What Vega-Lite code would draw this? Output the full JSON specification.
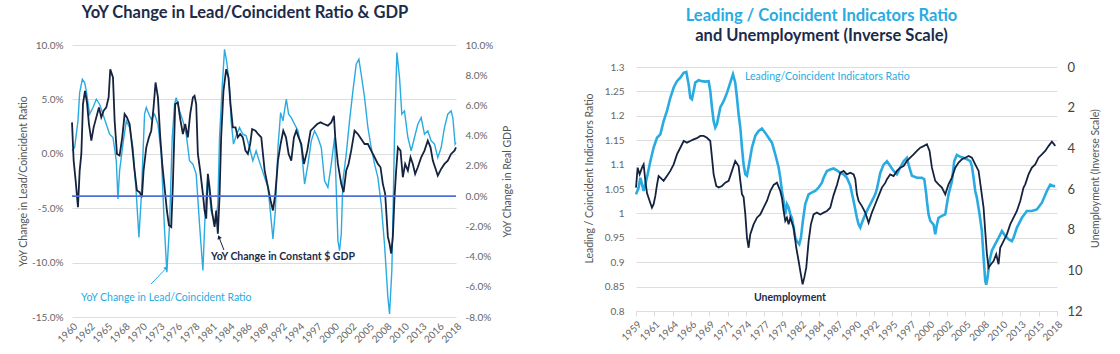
{
"$schema": "https://vega.github.io/schema/vega-lite/v6.json",
"background": "white",
"padding": {"left": 18, "top": 4, "right": 2, "bottom": 2},
"spacing": 70,
"config": {"font": "Lato", "view": {"stroke": null}, "title": {"font": "Lato", "subtitleFont": "Lato"}},
"datasets": {
"lc": [{"t":1960.00,"v":0.28},{"t":1960.40,"v":0.58},{"t":1960.90,"v":3.03},{"t":1961.16,"v":5.63},{"t":1961.56,"v":6.85},{"t":1961.91,"v":6.54},{"t":1962.16,"v":5.78},{"t":1962.66,"v":3.64},{"t":1963.17,"v":4.25},{"t":1963.67,"v":5.02},{"t":1964.17,"v":4.56},{"t":1964.68,"v":3.64},{"t":1965.18,"v":2.72},{"t":1965.68,"v":1.80},{"t":1966.19,"v":1.50},{"t":1966.69,"v":-0.64},{"t":1966.94,"v":-4.16},{"t":1967.19,"v":-1.56},{"t":1967.69,"v":0.89},{"t":1968.20,"v":3.03},{"t":1968.70,"v":2.42},{"t":1969.20,"v":0.58},{"t":1969.71,"v":-3.70},{"t":1970.11,"v":-7.68},{"t":1970.46,"v":-4.01},{"t":1970.96,"v":3.64},{"t":1971.22,"v":4.25},{"t":1971.62,"v":3.64},{"t":1971.97,"v":3.18},{"t":1972.47,"v":3.64},{"t":1972.98,"v":2.72},{"t":1973.48,"v":-0.03},{"t":1973.98,"v":-7.06},{"t":1974.33,"v":-10.89},{"t":1974.74,"v":-6.45},{"t":1975.14,"v":1.50},{"t":1975.49,"v":4.56},{"t":1975.74,"v":5.17},{"t":1976.25,"v":3.94},{"t":1976.75,"v":3.03},{"t":1977.25,"v":1.80},{"t":1977.75,"v":-0.64},{"t":1978.26,"v":-0.95},{"t":1978.76,"v":-1.87},{"t":1979.26,"v":-6.45},{"t":1979.77,"v":-10.73},{"t":1980.17,"v":-4.62},{"t":1980.52,"v":-2.17},{"t":1980.77,"v":-3.70},{"t":1981.02,"v":-5.23},{"t":1981.28,"v":-5.84},{"t":1981.68,"v":-6.45},{"t":1982.03,"v":-4.62},{"t":1982.28,"v":1.50},{"t":1982.68,"v":6.09},{"t":1983.04,"v":9.60},{"t":1983.39,"v":8.38},{"t":1983.79,"v":6.09},{"t":1984.04,"v":3.03},{"t":1984.39,"v":0.89},{"t":1984.80,"v":1.65},{"t":1985.30,"v":2.42},{"t":1985.80,"v":1.80},{"t":1986.31,"v":1.65},{"t":1986.81,"v":0.58},{"t":1987.31,"v":-0.64},{"t":1987.81,"v":0.28},{"t":1988.09,"v":-0.30},{"t":1988.59,"v":-1.25},{"t":1989.10,"v":-2.17},{"t":1989.60,"v":-3.09},{"t":1990.00,"v":-5.54},{"t":1990.35,"v":-7.83},{"t":1990.71,"v":-5.23},{"t":1991.11,"v":0.58},{"t":1991.51,"v":3.79},{"t":1991.86,"v":3.03},{"t":1992.37,"v":5.02},{"t":1992.72,"v":3.64},{"t":1993.12,"v":3.33},{"t":1993.62,"v":2.72},{"t":1994.13,"v":2.11},{"t":1994.63,"v":0.58},{"t":1995.13,"v":-2.78},{"t":1995.64,"v":-0.95},{"t":1996.14,"v":1.19},{"t":1996.64,"v":2.11},{"t":1997.14,"v":1.50},{"t":1997.65,"v":0.58},{"t":1998.15,"v":-2.48},{"t":1998.65,"v":-3.09},{"t":1999.16,"v":-0.95},{"t":1999.66,"v":1.50},{"t":2000.16,"v":-7.98},{"t":2000.41,"v":-8.90},{"t":2000.67,"v":-7.37},{"t":2000.92,"v":-2.48},{"t":2001.42,"v":-0.03},{"t":2001.92,"v":3.03},{"t":2002.43,"v":5.78},{"t":2002.93,"v":8.23},{"t":2003.33,"v":8.69},{"t":2003.68,"v":7.31},{"t":2004.19,"v":5.17},{"t":2004.69,"v":2.42},{"t":2005.19,"v":0.58},{"t":2005.70,"v":-0.95},{"t":2006.20,"v":-2.17},{"t":2006.70,"v":-4.62},{"t":2007.20,"v":-8.29},{"t":2007.71,"v":-13.18},{"t":2007.96,"v":-14.71},{"t":2008.31,"v":-10.73},{"t":2008.71,"v":1.50},{"t":2009.07,"v":9.30},{"t":2009.47,"v":7.00},{"t":2009.82,"v":3.64},{"t":2010.22,"v":3.94},{"t":2010.73,"v":1.50},{"t":2011.23,"v":0.28},{"t":2011.73,"v":1.50},{"t":2012.23,"v":2.72},{"t":2012.74,"v":3.33},{"t":2013.24,"v":1.80},{"t":2013.74,"v":2.11},{"t":2014.25,"v":1.19},{"t":2014.75,"v":0.89},{"t":2015.25,"v":-0.34},{"t":2015.76,"v":0.58},{"t":2016.26,"v":2.42},{"t":2016.76,"v":3.64},{"t":2017.26,"v":3.94},{"t":2017.52,"v":3.33},{"t":2017.87,"v":0.89},{"t":2018.00,"v":1.04}],
"gdp": [{"t":1960.00,"g":4.88},{"t":1960.25,"g":2.35},{"t":1960.55,"g":1.03},{"t":1960.90,"g":-0.73},{"t":1961.16,"g":1.69},{"t":1961.41,"g":2.79},{"t":1961.66,"g":6.09},{"t":1961.96,"g":6.97},{"t":1962.26,"g":6.20},{"t":1962.56,"g":4.77},{"t":1962.92,"g":3.67},{"t":1963.27,"g":4.55},{"t":1963.67,"g":5.21},{"t":1964.07,"g":5.87},{"t":1964.42,"g":5.21},{"t":1964.78,"g":5.65},{"t":1965.18,"g":5.87},{"t":1965.53,"g":6.53},{"t":1965.78,"g":8.40},{"t":1966.19,"g":7.85},{"t":1966.44,"g":4.99},{"t":1966.79,"g":2.79},{"t":1967.19,"g":2.68},{"t":1967.59,"g":3.89},{"t":1967.95,"g":5.43},{"t":1968.30,"g":5.21},{"t":1968.70,"g":4.77},{"t":1969.10,"g":3.23},{"t":1969.45,"g":1.69},{"t":1969.81,"g":0.37},{"t":1970.21,"g":0.26},{"t":1970.56,"g":-0.07},{"t":1970.81,"g":1.69},{"t":1971.22,"g":3.23},{"t":1971.62,"g":3.89},{"t":1971.97,"g":4.33},{"t":1972.32,"g":5.87},{"t":1972.62,"g":7.52},{"t":1972.98,"g":6.53},{"t":1973.33,"g":3.89},{"t":1973.63,"g":2.13},{"t":1973.98,"g":0.59},{"t":1974.33,"g":-0.95},{"t":1974.64,"g":-1.93},{"t":1974.99,"g":-2.04},{"t":1975.24,"g":0.81},{"t":1975.59,"g":6.09},{"t":1975.99,"g":6.20},{"t":1976.35,"g":5.10},{"t":1976.75,"g":4.11},{"t":1977.10,"g":4.77},{"t":1977.50,"g":3.89},{"t":1977.85,"g":5.43},{"t":1978.26,"g":6.53},{"t":1978.51,"g":6.64},{"t":1978.76,"g":6.09},{"t":1979.01,"g":2.79},{"t":1979.36,"g":1.69},{"t":1979.77,"g":0.15},{"t":1980.02,"g":-0.95},{"t":1980.27,"g":-1.49},{"t":1980.52,"g":1.47},{"t":1980.77,"g":0.59},{"t":1981.12,"g":-0.95},{"t":1981.53,"g":-2.04},{"t":1981.78,"g":-0.95},{"t":1982.03,"g":-2.48},{"t":1982.28,"g":-0.07},{"t":1982.53,"g":3.89},{"t":1982.88,"g":6.97},{"t":1983.29,"g":8.40},{"t":1983.64,"g":7.85},{"t":1983.94,"g":6.09},{"t":1984.29,"g":4.55},{"t":1984.70,"g":4.55},{"t":1985.05,"g":3.89},{"t":1985.40,"g":4.11},{"t":1985.80,"g":3.89},{"t":1986.20,"g":3.01},{"t":1986.56,"g":2.79},{"t":1986.91,"g":3.45},{"t":1987.21,"g":4.44},{"t":1987.71,"g":4.33},{"t":1988.09,"g":4.11},{"t":1988.59,"g":3.89},{"t":1989.10,"g":1.69},{"t":1989.60,"g":0.59},{"t":1990.00,"g":-0.29},{"t":1990.35,"g":-0.95},{"t":1990.71,"g":0.15},{"t":1991.11,"g":2.35},{"t":1991.51,"g":3.45},{"t":1991.91,"g":4.33},{"t":1992.32,"g":3.89},{"t":1992.72,"g":2.79},{"t":1993.12,"g":2.35},{"t":1993.52,"g":3.89},{"t":1993.87,"g":4.33},{"t":1994.23,"g":3.89},{"t":1994.63,"g":3.45},{"t":1995.03,"g":2.13},{"t":1995.53,"g":3.01},{"t":1996.04,"g":4.33},{"t":1996.54,"g":4.55},{"t":1997.04,"g":4.77},{"t":1997.55,"g":4.88},{"t":1998.05,"g":4.77},{"t":1998.65,"g":4.66},{"t":1999.16,"g":4.88},{"t":1999.56,"g":5.32},{"t":1999.76,"g":3.89},{"t":2000.16,"g":2.13},{"t":2000.67,"g":0.81},{"t":2001.02,"g":0.26},{"t":2001.42,"g":1.69},{"t":2001.77,"g":2.13},{"t":2002.17,"g":3.01},{"t":2002.68,"g":4.33},{"t":2003.18,"g":4.11},{"t":2003.68,"g":3.78},{"t":2004.19,"g":3.45},{"t":2004.69,"g":3.45},{"t":2005.19,"g":3.01},{"t":2005.70,"g":2.57},{"t":2006.20,"g":2.13},{"t":2006.60,"g":1.91},{"t":2006.95,"g":0.81},{"t":2007.30,"g":0.15},{"t":2007.71,"g":-2.70},{"t":2007.96,"g":-3.14},{"t":2008.21,"g":-3.80},{"t":2008.46,"g":-2.70},{"t":2008.71,"g":-0.07},{"t":2008.96,"g":1.69},{"t":2009.22,"g":3.23},{"t":2009.62,"g":3.01},{"t":2009.97,"g":1.25},{"t":2010.32,"g":2.13},{"t":2010.73,"g":1.69},{"t":2011.13,"g":2.57},{"t":2011.48,"g":2.13},{"t":2011.83,"g":1.47},{"t":2012.23,"g":1.91},{"t":2012.74,"g":2.57},{"t":2013.24,"g":3.01},{"t":2013.74,"g":3.67},{"t":2014.15,"g":3.23},{"t":2014.50,"g":2.35},{"t":2015.00,"g":1.69},{"t":2015.25,"g":1.36},{"t":2015.76,"g":1.80},{"t":2016.26,"g":2.13},{"t":2016.76,"g":2.35},{"t":2017.26,"g":2.79},{"t":2017.77,"g":3.01},{"t":2018.00,"g":3.23}],
"ratio": [{"t":1959.00,"r":1.039},{"t":1959.37,"r":1.053},{"t":1959.61,"r":1.073},{"t":1959.84,"r":1.06},{"t":1960.07,"r":1.046},{"t":1960.31,"r":1.06},{"t":1960.63,"r":1.08},{"t":1961.01,"r":1.107},{"t":1961.47,"r":1.135},{"t":1961.94,"r":1.155},{"t":1962.41,"r":1.162},{"t":1962.87,"r":1.189},{"t":1963.34,"r":1.21},{"t":1963.81,"r":1.237},{"t":1964.28,"r":1.258},{"t":1964.74,"r":1.271},{"t":1965.21,"r":1.278},{"t":1965.68,"r":1.288},{"t":1966.05,"r":1.29},{"t":1966.38,"r":1.264},{"t":1966.61,"r":1.237},{"t":1966.84,"r":1.234},{"t":1967.08,"r":1.251},{"t":1967.31,"r":1.268},{"t":1967.78,"r":1.273},{"t":1968.24,"r":1.271},{"t":1968.71,"r":1.27},{"t":1969.18,"r":1.271},{"t":1969.41,"r":1.251},{"t":1969.65,"r":1.217},{"t":1969.88,"r":1.189},{"t":1970.11,"r":1.176},{"t":1970.35,"r":1.183},{"t":1970.58,"r":1.2},{"t":1970.81,"r":1.217},{"t":1971.28,"r":1.23},{"t":1971.75,"r":1.247},{"t":1972.21,"r":1.268},{"t":1972.59,"r":1.285},{"t":1972.91,"r":1.268},{"t":1973.15,"r":1.237},{"t":1973.38,"r":1.203},{"t":1973.62,"r":1.176},{"t":1973.85,"r":1.135},{"t":1974.08,"r":1.1},{"t":1974.32,"r":1.08},{"t":1974.55,"r":1.077},{"t":1974.92,"r":1.107},{"t":1975.25,"r":1.135},{"t":1975.72,"r":1.159},{"t":1976.18,"r":1.169},{"t":1976.65,"r":1.174},{"t":1977.12,"r":1.165},{"t":1977.58,"r":1.155},{"t":1978.05,"r":1.145},{"t":1978.52,"r":1.121},{"t":1978.99,"r":1.094},{"t":1979.22,"r":1.073},{"t":1979.45,"r":1.046},{"t":1979.69,"r":1.025},{"t":1979.92,"r":0.998},{"t":1980.15,"r":1.019},{"t":1980.39,"r":1.012},{"t":1980.62,"r":0.998},{"t":1980.85,"r":0.991},{"t":1981.09,"r":0.971},{"t":1981.32,"r":0.95},{"t":1981.55,"r":0.943},{"t":1981.88,"r":0.937},{"t":1982.11,"r":0.95},{"t":1982.39,"r":0.985},{"t":1982.72,"r":1.019},{"t":1983.19,"r":1.039},{"t":1983.66,"r":1.043},{"t":1984.12,"r":1.046},{"t":1984.59,"r":1.053},{"t":1985.06,"r":1.063},{"t":1985.29,"r":1.073},{"t":1985.76,"r":1.087},{"t":1986.22,"r":1.09},{"t":1986.69,"r":1.092},{"t":1987.16,"r":1.088},{"t":1987.63,"r":1.083},{"t":1988.09,"r":1.08},{"t":1988.56,"r":1.073},{"t":1989.03,"r":1.057},{"t":1989.50,"r":1.025},{"t":1989.96,"r":0.991},{"t":1990.20,"r":0.977},{"t":1990.43,"r":0.971},{"t":1990.66,"r":0.981},{"t":1991.13,"r":0.998},{"t":1991.60,"r":1.012},{"t":1992.06,"r":1.025},{"t":1992.53,"r":1.039},{"t":1992.76,"r":1.05},{"t":1993.23,"r":1.083},{"t":1993.70,"r":1.1},{"t":1994.17,"r":1.107},{"t":1994.63,"r":1.097},{"t":1995.10,"r":1.087},{"t":1995.57,"r":1.08},{"t":1996.03,"r":1.094},{"t":1996.50,"r":1.107},{"t":1996.97,"r":1.114},{"t":1997.20,"r":1.1},{"t":1997.67,"r":1.077},{"t":1998.37,"r":1.073},{"t":1999.07,"r":1.073},{"t":1999.40,"r":1.07},{"t":1999.68,"r":1.039},{"t":1999.77,"r":1.025},{"t":2000.00,"r":0.998},{"t":2000.24,"r":0.985},{"t":2000.70,"r":0.977},{"t":2000.94,"r":0.957},{"t":2001.17,"r":0.977},{"t":2001.40,"r":0.991},{"t":2001.87,"r":0.995},{"t":2002.34,"r":0.998},{"t":2002.57,"r":1.019},{"t":2002.80,"r":1.039},{"t":2003.27,"r":1.066},{"t":2003.60,"r":1.107},{"t":2003.97,"r":1.12},{"t":2004.44,"r":1.116},{"t":2004.91,"r":1.114},{"t":2005.37,"r":1.111},{"t":2005.84,"r":1.107},{"t":2006.07,"r":1.097},{"t":2006.31,"r":1.073},{"t":2006.54,"r":1.046},{"t":2006.77,"r":1.032},{"t":2007.15,"r":0.998},{"t":2007.47,"r":0.964},{"t":2007.71,"r":0.91},{"t":2007.94,"r":0.862},{"t":2008.08,"r":0.854},{"t":2008.27,"r":0.869},{"t":2008.55,"r":0.903},{"t":2008.88,"r":0.924},{"t":2009.34,"r":0.937},{"t":2009.81,"r":0.95},{"t":2010.28,"r":0.964},{"t":2010.74,"r":0.954},{"t":2011.21,"r":0.947},{"t":2011.68,"r":0.943},{"t":2011.91,"r":0.95},{"t":2012.38,"r":0.971},{"t":2013.08,"r":0.991},{"t":2013.78,"r":1.005},{"t":2014.48,"r":1.005},{"t":2015.18,"r":1.008},{"t":2015.88,"r":1.022},{"t":2016.58,"r":1.046},{"t":2017.05,"r":1.059},{"t":2017.52,"r":1.056},{"t":2017.75,"r":1.056}],
"unemp": [{"t":1959.00,"u":5.93},{"t":1959.23,"u":4.95},{"t":1959.51,"u":5.28},{"t":1959.84,"u":4.95},{"t":1960.07,"u":4.79},{"t":1960.31,"u":5.6},{"t":1960.54,"u":6.2},{"t":1960.91,"u":6.59},{"t":1961.24,"u":6.92},{"t":1961.47,"u":6.75},{"t":1961.71,"u":6.34},{"t":1961.94,"u":5.8},{"t":1962.17,"u":5.36},{"t":1962.41,"u":5.44},{"t":1962.87,"u":5.6},{"t":1963.34,"u":5.36},{"t":1963.81,"u":5.11},{"t":1964.28,"u":4.79},{"t":1964.74,"u":4.3},{"t":1965.21,"u":3.97},{"t":1965.68,"u":3.64},{"t":1966.14,"u":3.72},{"t":1966.61,"u":3.64},{"t":1967.08,"u":3.56},{"t":1967.54,"u":3.5},{"t":1968.01,"u":3.39},{"t":1968.48,"u":3.39},{"t":1968.95,"u":3.48},{"t":1969.41,"u":3.64},{"t":1969.65,"u":4.46},{"t":1969.88,"u":5.28},{"t":1970.25,"u":5.85},{"t":1970.58,"u":5.93},{"t":1971.05,"u":5.85},{"t":1971.51,"u":5.69},{"t":1971.98,"u":5.6},{"t":1972.45,"u":5.11},{"t":1972.91,"u":4.62},{"t":1973.38,"u":4.87},{"t":1973.62,"u":5.6},{"t":1973.85,"u":6.26},{"t":1974.08,"u":6.4},{"t":1974.32,"u":7.25},{"t":1974.55,"u":8.39},{"t":1974.78,"u":8.89},{"t":1975.01,"u":8.23},{"t":1975.48,"u":7.74},{"t":1975.95,"u":7.41},{"t":1976.42,"u":7.25},{"t":1976.88,"u":6.92},{"t":1977.35,"u":6.59},{"t":1977.82,"u":6.1},{"t":1978.29,"u":5.8},{"t":1978.75,"u":5.69},{"t":1979.22,"u":6.1},{"t":1979.45,"u":6.43},{"t":1979.69,"u":7.08},{"t":1979.92,"u":7.57},{"t":1980.15,"u":7.41},{"t":1980.39,"u":7.74},{"t":1980.62,"u":7.41},{"t":1981.09,"u":7.9},{"t":1981.46,"u":8.89},{"t":1981.79,"u":9.54},{"t":1982.02,"u":10.03},{"t":1982.35,"u":10.69},{"t":1982.58,"u":10.36},{"t":1982.86,"u":9.87},{"t":1983.19,"u":8.56},{"t":1983.51,"u":7.74},{"t":1983.89,"u":7.25},{"t":1984.35,"u":7.16},{"t":1984.82,"u":7.25},{"t":1985.29,"u":7.16},{"t":1985.76,"u":7.08},{"t":1986.22,"u":6.92},{"t":1986.69,"u":6.3},{"t":1987.16,"u":5.8},{"t":1987.63,"u":5.2},{"t":1988.09,"u":5.11},{"t":1988.56,"u":5.28},{"t":1989.03,"u":5.2},{"t":1989.50,"u":5.28},{"t":1989.73,"u":5.52},{"t":1989.96,"u":6.26},{"t":1990.20,"u":6.59},{"t":1990.66,"u":6.84},{"t":1991.13,"u":7.16},{"t":1991.60,"u":7.66},{"t":1992.06,"u":7.16},{"t":1992.53,"u":6.75},{"t":1993.00,"u":6.34},{"t":1993.46,"u":5.93},{"t":1993.93,"u":5.7},{"t":1994.17,"u":5.52},{"t":1994.63,"u":5.28},{"t":1995.10,"u":5.36},{"t":1995.57,"u":5.11},{"t":1996.03,"u":4.95},{"t":1996.50,"u":4.87},{"t":1996.97,"u":4.62},{"t":1997.43,"u":4.46},{"t":1997.90,"u":4.3},{"t":1998.37,"u":4.13},{"t":1998.84,"u":3.97},{"t":1999.30,"u":3.89},{"t":1999.77,"u":3.8},{"t":2000.14,"u":4.13},{"t":2000.47,"u":4.95},{"t":2000.94,"u":5.6},{"t":2001.40,"u":5.77},{"t":2001.87,"u":5.93},{"t":2002.34,"u":6.26},{"t":2002.80,"u":5.77},{"t":2003.27,"u":5.44},{"t":2003.74,"u":4.95},{"t":2004.21,"u":4.7},{"t":2004.67,"u":4.54},{"t":2005.14,"u":4.46},{"t":2005.61,"u":4.38},{"t":2006.07,"u":4.46},{"t":2006.54,"u":4.79},{"t":2007.01,"u":5.11},{"t":2007.33,"u":5.93},{"t":2007.71,"u":6.92},{"t":2007.94,"u":8.07},{"t":2008.18,"u":9.21},{"t":2008.41,"u":9.87},{"t":2008.74,"u":9.7},{"t":2009.11,"u":9.54},{"t":2009.48,"u":9.21},{"t":2009.81,"u":9.7},{"t":2010.04,"u":8.89},{"t":2010.51,"u":8.56},{"t":2010.98,"u":8.23},{"t":2011.44,"u":7.74},{"t":2011.91,"u":7.41},{"t":2012.38,"u":7.08},{"t":2012.85,"u":6.59},{"t":2013.31,"u":5.93},{"t":2013.55,"u":5.77},{"t":2014.01,"u":5.28},{"t":2014.48,"u":4.95},{"t":2014.95,"u":4.79},{"t":2015.41,"u":4.46},{"t":2015.88,"u":4.3},{"t":2016.35,"u":4.13},{"t":2016.81,"u":3.89},{"t":2017.28,"u":3.67},{"t":2017.52,"u":3.77},{"t":2017.75,"u":3.89}]
},
"hconcat": [
{
"width": 384, "height": 272,
"title": {"text": "YoY Change in Lead/Coincident Ratio & GDP", "fontSize": 16.5, "fontWeight": "bold", "color": "#1c2b4a", "dx": -19, "offset": 19},
"resolve": {"scale": {"y": "independent"}},
"encoding": {
  "x": {"field": "t", "type": "quantitative", "scale": {"domain": [1960, 2018], "nice": false, "zero": false},
   "axis": {"values": [1960,1962.636,1965.273,1967.909,1970.545,1973.182,1975.818,1978.455,1981.091,1983.727,1986.364,1989.0,1991.636,1994.273,1996.909,1999.545,2002.182,2004.818,2007.455,2010.091,2012.727,2015.364,2018],
    "labelExpr": "['1960','1962','1965','1968','1970','1973','1976','1978','1981','1984','1986','1989','1992','1994','1997','2000','2002','2005','2008','2010','2013','2016','2018'][round((datum.value-1960)/2.636364)]",
    "labelAngle": -45, "labelOverlap": false, "labelBound": false, "grid": false, "ticks": false, "domain": false, "labelFontSize": 10, "labelColor": "#666666", "labelPadding": 4, "title": null}}
},
"layer": [
{"data": {"name": "lc"}, "mark": {"type": "line", "color": "#29abe2", "strokeWidth": 1.4},
 "encoding": {
  "y": {"field": "v", "type": "quantitative", "scale": {"domain": [-15, 10], "nice": false, "zero": false},
   "axis": {"values": [-15,-10,-5,0,5,10], "labelExpr": "(datum.value<0?'-':'')+format(abs(datum.value),'.1f')+'%'", "labelOverlap": false, "grid": true, "gridColor": "#dddddd", "ticks": false, "domain": false, "labelFontSize": 10, "labelColor": "#666666", "labelPadding": 9, "title": "YoY Change in Lead/Coincident Ratio", "titleFontSize": 10.5, "titleFontWeight": "normal", "titleColor": "#555555", "titlePadding": 3}}
 }},
{"data": {"name": "gdp"}, "mark": {"type": "line", "color": "#15233f", "strokeWidth": 1.8},
 "encoding": {
  "y": {"field": "g", "type": "quantitative", "scale": {"domain": [-8, 10], "nice": false, "zero": false},
   "axis": {"orient": "right", "values": [-8,-6,-4,-2,0,2,4,6,8,10], "labelExpr": "(datum.value<0?'-':'')+format(abs(datum.value),'.1f')+'%'", "labelOverlap": false, "grid": false, "ticks": false, "domain": false, "labelFontSize": 10, "labelColor": "#666666", "labelPadding": 9, "title": "YoY Change in Real GDP", "titleAngle": 270, "titleBaseline": "top", "titleFontSize": 10.5, "titleFontWeight": "normal", "titleColor": "#555555", "titlePadding": 10}}
 }},
{"data": {"values": [{"t": 1960, "g": 0}, {"t": 2018, "g": 0}]}, "mark": {"type": "line", "color": "#4f70d9", "strokeWidth": 1.8},
 "encoding": {"y": {"field": "g", "type": "quantitative", "scale": {"domain": [-8, 10], "nice": false, "zero": false}, "axis": null}}},
{"data": {"values": [{"t": 1982.95, "v": -8.84, "t2": 1982.25, "v2": -7.75}]}, "mark": {"type": "rule", "color": "#15233f", "strokeWidth": 1},
 "encoding": {"x2": {"field": "t2"}, "y": {"field": "v", "type": "quantitative", "scale": {"domain": [-15, 10], "nice": false, "zero": false}, "axis": null}, "y2": {"field": "v2"}}},
{"data": {"values": [{"t": 1982.2, "v": -7.65}]}, "mark": {"type": "point", "shape": "triangle-up", "filled": true, "color": "#15233f", "size": 22, "angle": 339, "opacity": 1},
 "encoding": {"y": {"field": "v", "type": "quantitative", "scale": {"domain": [-15, 10], "nice": false, "zero": false}, "axis": null}}},
{"data": {"values": [{"t": 1971.93, "v": -11.97, "t2": 1974.1, "v2": -10.6}]}, "mark": {"type": "rule", "color": "#29abe2", "strokeWidth": 1},
 "encoding": {"x2": {"field": "t2"}, "y": {"field": "v", "type": "quantitative", "scale": {"domain": [-15, 10], "nice": false, "zero": false}, "axis": null}, "y2": {"field": "v2"}}},
{"data": {"values": [{"t": 1974.24, "v": -10.47}]}, "mark": {"type": "point", "shape": "triangle-up", "filled": true, "color": "#29abe2", "size": 22, "angle": 41, "opacity": 1},
 "encoding": {"y": {"field": "v", "type": "quantitative", "scale": {"domain": [-15, 10], "nice": false, "zero": false}, "axis": null}}},
{"data": {"values": [{"t": 1981.0, "v": -9.5, "label": "YoY Change in Constant $ GDP"}]}, "mark": {"type": "text", "align": "left", "baseline": "middle", "fontSize": 10.5, "fontWeight": "bold", "color": "#1c2b4a"},
 "encoding": {"y": {"field": "v", "type": "quantitative", "scale": {"domain": [-15, 10], "nice": false, "zero": false}, "axis": null}, "text": {"field": "label"}}},
{"data": {"values": [{"t": 1961.36, "v": -13.25, "label": "YoY Change in Lead/Coincident Ratio"}]}, "mark": {"type": "text", "align": "left", "baseline": "middle", "fontSize": 10.5, "color": "#29abe2"},
 "encoding": {"y": {"field": "v", "type": "quantitative", "scale": {"domain": [-15, 10], "nice": false, "zero": false}, "axis": null}, "text": {"field": "label"}}}
]
},
{
"width": 421, "height": 266,
"title": {"text": "Leading / Coincident Indicators Ratio", "subtitle": "and Unemployment (Inverse Scale)", "fontSize": 16.5, "fontWeight": "bold", "color": "#29abe2", "subtitleColor": "#1c2b4a", "subtitleFontSize": 16.5, "subtitleFontWeight": "bold", "subtitlePadding": 3, "dx": -25, "offset": 1},
"resolve": {"scale": {"y": "independent"}},
"encoding": {
  "x": {"field": "t", "type": "quantitative", "scale": {"domain": [1959, 2018], "nice": false, "zero": false},
   "axis": {"values": [1959,1961.565,1964.130,1966.696,1969.261,1971.826,1974.391,1976.957,1979.522,1982.087,1984.652,1987.217,1989.783,1992.348,1994.913,1997.478,2000.043,2002.609,2005.174,2007.739,2010.304,2012.870,2015.435,2018],
    "labelExpr": "['1959','1961','1964','1966','1969','1971','1974','1977','1979','1982','1984','1987','1990','1992','1995','1997','2000','2002','2005','2008','2010','2013','2015','2018'][round((datum.value-1959)/2.565217)]",
    "labelAngle": -45, "labelOverlap": false, "labelBound": false, "grid": false, "ticks": true, "tickSize": 5, "tickColor": "#dddddd", "domain": true, "domainColor": "#dddddd", "labelFontSize": 10, "labelColor": "#666666", "labelPadding": 3, "title": null}}
},
"layer": [
{"data": {"name": "ratio"}, "mark": {"type": "line", "color": "#29abe2", "strokeWidth": 2.6},
 "encoding": {
  "y": {"field": "r", "type": "quantitative", "scale": {"domain": [0.8, 1.3451], "nice": false, "zero": false},
   "axis": {"values": [0.8,0.85,0.9,0.95,1,1.05,1.1,1.15,1.2,1.25,1.3], "format": ".3~g", "labelOverlap": false, "grid": true, "gridColor": "#dddddd", "ticks": false, "domain": false, "labelFontSize": 10, "labelColor": "#666666", "labelPadding": 12, "title": "Leading / Coincident Indicators Ratio", "titleFontSize": 10.5, "titleFontWeight": "normal", "titleColor": "#555555", "titlePadding": 10}}
 }},
{"data": {"name": "unemp"}, "mark": {"type": "line", "color": "#15233f", "strokeWidth": 1.8},
 "encoding": {
  "y": {"field": "u", "type": "quantitative", "scale": {"domain": [-1.082, 12], "reverse": true, "nice": false, "zero": false},
   "axis": {"orient": "right", "values": [0,2,4,6,8,10,12], "labelOverlap": false, "grid": false, "ticks": false, "domain": false, "labelFontSize": 13, "labelColor": "#444444", "labelPadding": 10, "title": "Unemployment (Inverse Scale)", "titleAngle": 270, "titleBaseline": "top", "titleFontSize": 10.5, "titleFontWeight": "normal", "titleColor": "#555555", "titlePadding": 8}}
 }},
{"data": {"values": [{"t": 1974.27, "r": 1.2795, "label": "Leading/Coincident Indicators Ratio"}]}, "mark": {"type": "text", "align": "left", "baseline": "middle", "fontSize": 10.5, "color": "#29abe2"},
 "encoding": {"y": {"field": "r", "type": "quantitative", "scale": {"domain": [0.8, 1.3451], "nice": false, "zero": false}, "axis": null}, "text": {"field": "label"}}},
{"data": {"values": [{"t": 1975.53, "r": 0.8266, "label": "Unemployment"}]}, "mark": {"type": "text", "align": "left", "baseline": "middle", "fontSize": 10.5, "fontWeight": "bold", "color": "#1c2b4a"},
 "encoding": {"y": {"field": "r", "type": "quantitative", "scale": {"domain": [0.8, 1.3451], "nice": false, "zero": false}, "axis": null}, "text": {"field": "label"}}}
]
}
]
}
